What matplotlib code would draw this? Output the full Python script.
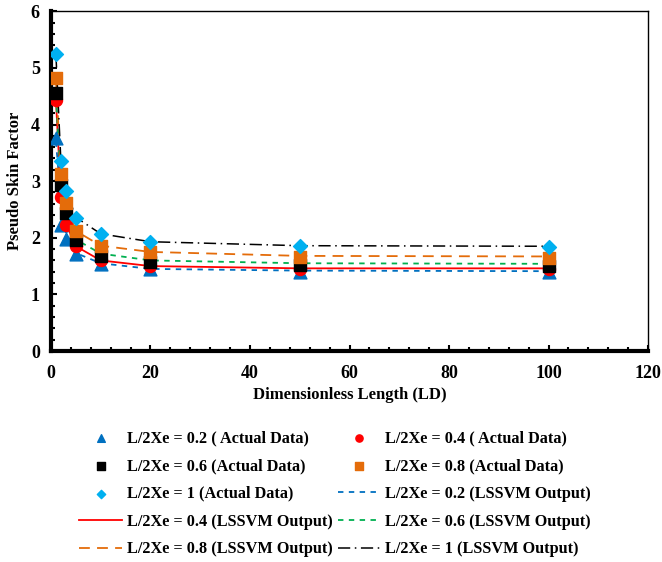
import numpy as np
import matplotlib
matplotlib.use('Agg')
from matplotlib import pyplot as plt
from matplotlib.ticker import MultipleLocator

plt.rcParams['font.family'] = ['Liberation Serif', 'DejaVu Serif']
plt.rcParams['font.weight'] = 'bold'

ld = [1, 2, 3, 5, 10, 20, 50, 100]

# actual data
act_02 = [3.76, 2.22, 1.98, 1.71, 1.53, 1.44, 1.40, 1.39]
act_04 = [4.44, 2.72, 2.23, 1.85, 1.61, 1.50, 1.45, 1.45]
act_06 = [4.55, 2.93, 2.44, 1.96, 1.68, 1.57, 1.52, 1.50]
act_08 = [4.82, 3.13, 2.61, 2.12, 1.85, 1.74, 1.66, 1.65]
act_1 = [5.25, 3.35, 2.83, 2.35, 2.06, 1.93, 1.85, 1.84]

# LSSVM output
svm_02 = [3.70, 2.65, 2.10, 1.73, 1.55, 1.45, 1.42, 1.41]
svm_04 = [4.42, 2.75, 2.25, 1.85, 1.60, 1.50, 1.46, 1.46]
svm_06 = [4.50, 2.90, 2.42, 1.97, 1.72, 1.60, 1.55, 1.54]
svm_08 = [4.80, 3.12, 2.60, 2.12, 1.86, 1.75, 1.68, 1.67]
svm_1 = [5.22, 3.34, 2.82, 2.36, 2.07, 1.93, 1.86, 1.85]

c_blue = '#0070C0'
c_red = '#FF0000'
c_orange = '#E46C0A'
c_cyan = '#00B0F0'
c_green = '#00B050'

fig = plt.figure(figsize=(6.62, 5.62), dpi=100)
ax = fig.add_axes([0.077, 0.3754, 0.902, 0.6046])

h = []
h.append(ax.plot(ld, svm_02, color=c_blue, ls=(0, (3, 3)), lw=1.3, zorder=2)[0])
h.append(ax.plot(ld, svm_04, color=c_red, ls='-', lw=1.3, zorder=2)[0])
h.append(ax.plot(ld, svm_06, color=c_green, ls=(0, (3, 3)), lw=1.3, zorder=2)[0])
h.append(ax.plot(ld, svm_08, color=c_orange, ls=(0, (6, 4)), lw=1.3, zorder=2)[0])
h.append(ax.plot(ld, svm_1, color='black', ls=(0, (8, 3, 1, 3)), lw=1.1, zorder=2)[0])

m = []
m.append(ax.scatter(ld, act_02, marker='^', s=85, color=c_blue, zorder=3))
m.append(ax.scatter(ld, act_04, marker='o', s=75, color=c_red, zorder=3))
m.append(ax.scatter(ld, act_06, marker='s', s=80, color='black', zorder=3))
m.append(ax.scatter(ld, act_08, marker='s', s=80, color=c_orange, zorder=3))
m.append(ax.scatter(ld, act_1, marker='D', s=50, color=c_cyan, zorder=4))

ax.set_xlim(0, 120)
ax.set_ylim(0, 6)
ax.xaxis.set_major_locator(MultipleLocator(20))
ax.xaxis.set_minor_locator(MultipleLocator(4))
ax.yaxis.set_major_locator(MultipleLocator(1))
ax.yaxis.set_minor_locator(MultipleLocator(0.2))
ax.tick_params(which='both', direction='in', width=1.5, labelsize=13)
ax.tick_params(which='major', length=4)
ax.tick_params(which='minor', length=3)
ax.tick_params(axis='x', pad=10)
ax.tick_params(axis='y', pad=8)
for s in ['left', 'bottom']:
    ax.spines[s].set_linewidth(3)
for s in ['top', 'right']:
    ax.spines[s].set_linewidth(1)

ax.set_xlabel('Dimensionless Length (LD)', fontsize=12, fontweight='bold', labelpad=4)
ax.set_ylabel('Pseudo Skin Factor', fontsize=12, fontweight='bold', labelpad=6)

labels = ['L/2Xe = 0.2 ( Actual Data)', 'L/2Xe = 0.4 ( Actual Data)',
          'L/2Xe = 0.6 (Actual Data)', 'L/2Xe = 0.8 (Actual Data)',
          'L/2Xe = 1 (Actual Data)', 'L/2Xe = 0.2 (LSSVM Output)',
          'L/2Xe = 0.4 (LSSVM Output)', 'L/2Xe = 0.6 (LSSVM Output)',
          'L/2Xe = 0.8 (LSSVM Output)', 'L/2Xe = 1 (LSSVM Output)']
handles = m + h
order = [0, 2, 4, 6, 8, 1, 3, 5, 7, 9]
fig.legend([handles[i] for i in order], [labels[i] for i in order],
           loc='upper left', bbox_to_anchor=(0.1193, 0.2341), ncol=2,
           frameon=False, fontsize=11.7, handlelength=2.65, handletextpad=0.3,
           columnspacing=0.3, labelspacing=0.72, markerscale=0.6,
           borderpad=0, borderaxespad=0)

fig.savefig('out.png', dpi=100)
